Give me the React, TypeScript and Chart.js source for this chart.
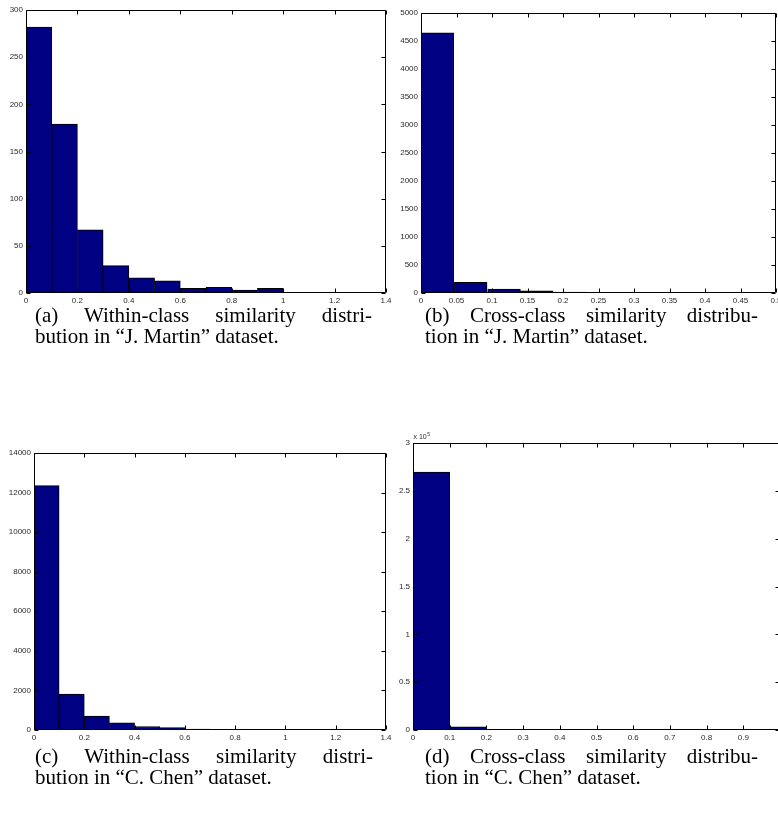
import React, { useEffect, useRef } from "react";
import { Chart, registerables } from "chart.js";

Chart.register(...registerables);

// ---------- data ----------
const aBins = [0.05, 0.15, 0.25, 0.35, 0.45, 0.55, 0.65, 0.75, 0.85, 0.95];
const aCounts = [282, 179, 67, 29, 16, 13, 5, 6, 3, 5];
const aXTicks = [0, 0.2, 0.4, 0.6, 0.8, 1, 1.2, 1.4];
const aYTicks = [0, 50, 100, 150, 200, 250, 300];

const bBins = [0.023, 0.07, 0.117, 0.163, 0.21, 0.256, 0.303, 0.35, 0.396, 0.443];
const bCounts = [4645, 190, 70, 38, 16, 5, 12, 3, 2, 3];
const bXTicks = [0, 0.05, 0.1, 0.15, 0.2, 0.25, 0.3, 0.35, 0.4, 0.45, 0.5];
const bYTicks = [0, 500, 1000, 1500, 2000, 2500, 3000, 3500, 4000, 4500, 5000];

const cBins = [0.05, 0.15, 0.25, 0.35, 0.45, 0.55, 0.65, 0.75, 0.85, 0.95];
const cCounts = [12350, 1820, 707, 360, 175, 120, 45, 25, 30, 12];
const cXTicks = [0, 0.2, 0.4, 0.6, 0.8, 1, 1.2, 1.4];
const cYTicks = [0, 2000, 4000, 6000, 8000, 10000, 12000, 14000];

const dBins = [0.05, 0.15, 0.25, 0.35, 0.45, 0.55, 0.65, 0.75, 0.85, 0.95];
const dCounts = [269700, 3400, 600, 250, 120, 60, 40, 20, 10, 5];
const dXTicks = [0, 0.1, 0.2, 0.3, 0.4, 0.5, 0.6, 0.7, 0.8, 0.9, 1];
const dYTicks = [0, 50000, 100000, 150000, 200000, 250000, 300000];
const dYScale = 100000;

const captions = [
  ["(a) Within-class similarity distri-", "bution in \u201cJ. Martin\u201d dataset."],
  ["(b) Cross-class similarity distribu-", "tion in \u201cJ. Martin\u201d dataset."],
  ["(c) Within-class similarity distri-", "bution in \u201cC. Chen\u201d dataset."],
  ["(d) Cross-class similarity distribu-", "tion in \u201cC. Chen\u201d dataset."],
];

// ---------- styling ----------
const BAR_FILL = "#000083";
const TICK_FONT = { family: "'Liberation Sans', Arial, sans-serif", size: 8 };
const TICK_COLOR = "#2a2a2a";

const fmt = (v: number) => String(Number(v.toFixed(3)));

const framePlugin = {
  id: "frame",
  afterDraw(chart: any) {
    const { ctx, chartArea } = chart;
    const { left, right, top, bottom } = chartArea;
    const x = chart.scales.x;
    const y = chart.scales.y;
    const L = Math.round(left) + 0.5;
    const R = Math.round(right) - 0.5;
    const T = Math.round(top) + 0.5;
    const B = Math.round(bottom) - 0.5;
    ctx.save();
    ctx.strokeStyle = "#000";
    ctx.lineWidth = 1;
    ctx.beginPath();
    ctx.rect(L, T, R - L, B - T);
    const len = 4;
    x.ticks.forEach((t: any) => {
      const px = Math.round(x.getPixelForValue(t.value)) + 0.5;
      ctx.moveTo(px, B);
      ctx.lineTo(px, B - len);
      ctx.moveTo(px, T);
      ctx.lineTo(px, T + len);
    });
    y.ticks.forEach((t: any) => {
      const py = Math.round(y.getPixelForValue(t.value)) + 0.5;
      ctx.moveTo(L, py);
      ctx.lineTo(L + len, py);
      ctx.moveTo(R, py);
      ctx.lineTo(R - len, py);
    });
    ctx.stroke();
    const exp = chart.options.plugins?.frame?.exponent;
    if (exp) {
      ctx.fillStyle = TICK_COLOR;
      ctx.textBaseline = "alphabetic";
      ctx.font = "7px 'Liberation Sans', Arial, sans-serif";
      ctx.fillText("x 10", L, T - 5);
      const w = ctx.measureText("x 10").width;
      ctx.font = "5px 'Liberation Sans', Arial, sans-serif";
      ctx.fillText(exp, L + w + 0.5, T - 8);
    }
    ctx.restore();
  },
};

type PanelProps = {
  left: number;
  top: number;
  width: number;
  height: number;
  area: [number, number, number, number]; // l, t, r, b inside canvas
  bins: number[];
  counts: number[];
  xTicks: number[];
  yTicks: number[];
  yDiv?: number;
  exponent?: string;
};

function Panel(p: PanelProps) {
  const ref = useRef<HTMLCanvasElement | null>(null);
  useEffect(() => {
    const [l, t, r, b] = p.area;
    const div = p.yDiv || 1;
    const chart = new Chart(ref.current as HTMLCanvasElement, {
      type: "bar",
      data: {
        datasets: [
          {
            data: p.bins.map((x, i) => ({ x, y: p.counts[i] })),
            backgroundColor: BAR_FILL,
            borderColor: "#000",
            borderWidth: 1,
            barPercentage: 1,
            categoryPercentage: 1,
          },
        ],
      },
      options: {
        responsive: false,
        animation: false,
        devicePixelRatio: 1,
        layout: { padding: { top: t, right: p.width - r, left: 0, bottom: 0 } },
        plugins: {
          legend: { display: false },
          tooltip: { enabled: false },
          frame: { exponent: p.exponent },
        } as any,
        scales: {
          x: {
            type: "linear",
            min: p.xTicks[0],
            max: p.xTicks[p.xTicks.length - 1],
            offset: false,
            grid: { display: false, drawTicks: false },
            border: { display: false },
            afterBuildTicks: (s: any) => {
              s.ticks = p.xTicks.map((v) => ({ value: v }));
            },
            afterFit: (s: any) => {
              s.height = p.height - b;
            },
            ticks: {
              font: TICK_FONT,
              color: TICK_COLOR,
              padding: 3,
              maxRotation: 0,
              autoSkip: false,
              callback: (v: any) => fmt(Number(v)),
            },
          },
          y: {
            type: "linear",
            min: p.yTicks[0],
            max: p.yTicks[p.yTicks.length - 1],
            grid: { display: false, drawTicks: false },
            border: { display: false },
            afterBuildTicks: (s: any) => {
              s.ticks = p.yTicks.map((v) => ({ value: v }));
            },
            afterFit: (s: any) => {
              s.width = l;
            },
            ticks: {
              font: TICK_FONT,
              color: TICK_COLOR,
              padding: 3,
              autoSkip: false,
              callback: (v: any) => fmt(Number(v) / div),
            },
          },
        },
      } as any,
      plugins: [framePlugin],
    });
    return () => chart.destroy();
  }, []);
  return (
    <canvas
      ref={ref}
      width={p.width}
      height={p.height}
      style={{ position: "absolute", left: p.left, top: p.top, width: p.width, height: p.height }}
    />
  );
}

function Caption({ left, top, width, lines }: { left: number; top: number; width: number; lines: string[] }) {
  const base: React.CSSProperties = {
    position: "absolute",
    left,
    fontFamily: "'Liberation Serif', 'Times New Roman', serif",
    fontSize: 21,
    lineHeight: "21px",
    color: "#000",
    whiteSpace: "nowrap",
  };
  return (
    <>
      <div style={{ ...base, top, width, textAlign: "justify", textAlignLast: "justify", whiteSpace: "normal" }}>
        {lines[0]}
      </div>
      <div style={{ ...base, top: top + 21 }}>{lines[1]}</div>
    </>
  );
}

export default function App() {
  return (
    <div
      style={{
        position: "fixed",
        left: 0,
        top: 0,
        width: 778,
        height: 814,
        overflow: "hidden",
        background: "#fff",
      }}
    >
      <Panel left={0} top={0} width={400} height={310} area={[26, 10, 386, 293]}
        bins={aBins} counts={aCounts} xTicks={aXTicks} yTicks={aYTicks} />
      <Panel left={390} top={0} width={400} height={310} area={[31, 13, 386, 293]}
        bins={bBins} counts={bCounts} xTicks={bXTicks} yTicks={bYTicks} />
      <Panel left={0} top={440} width={400} height={310} area={[34, 13, 386, 290]}
        bins={cBins} counts={cCounts} xTicks={cXTicks} yTicks={cYTicks} />
      <Panel left={390} top={430} width={410} height={320} area={[23, 13, 390, 300]}
        bins={dBins} counts={dCounts} xTicks={dXTicks} yTicks={dYTicks} yDiv={dYScale} exponent="5" />
      <Caption left={35} top={305} width={337} lines={captions[0]} />
      <Caption left={425} top={305} width={333} lines={captions[1]} />
      <Caption left={35} top={746} width={338} lines={captions[2]} />
      <Caption left={425} top={746} width={333} lines={captions[3]} />
    </div>
  );
}
